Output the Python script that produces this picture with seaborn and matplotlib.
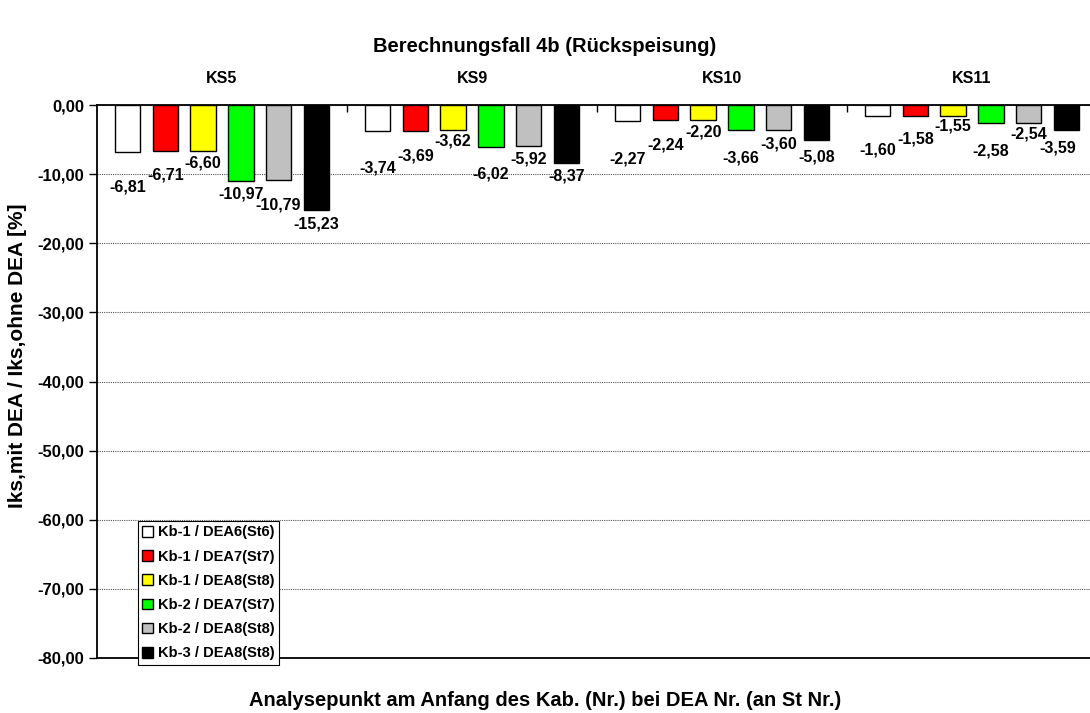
import pandas as pd
import matplotlib.pyplot as plt
import seaborn as sns

# data
categories = ["KS5", "KS9", "KS10", "KS11"]
series = [
    "Kb-1 / DEA6(St6)",
    "Kb-1 / DEA7(St7)",
    "Kb-1 / DEA8(St8)",
    "Kb-2 / DEA7(St7)",
    "Kb-2 / DEA8(St8)",
    "Kb-3 / DEA8(St8)",
]
kb1_dea6 = [-6.81, -3.74, -2.27, -1.60]
kb1_dea7 = [-6.71, -3.69, -2.24, -1.58]
kb1_dea8 = [-6.60, -3.62, -2.20, -1.55]
kb2_dea7 = [-10.97, -6.02, -3.66, -2.58]
kb2_dea8 = [-10.79, -5.92, -3.60, -2.54]
kb3_dea8 = [-15.23, -8.37, -5.08, -3.59]
y_ticks = [0, -10, -20, -30, -40, -50, -60, -70, -80]

colors = ["#FFFFFF", "#FF0000", "#FFFF00", "#00FF00", "#C0C0C0", "#000000"]

# label offsets below bar end (pixels), per category / series (Excel staggering)
label_dy = [
    [35, 24, 12, 13, 25, 14],
    [37, 25, 11, 27, 13, 13],
    [38, 25, 12, 28, 14, 17],
    [34, 23, 10, 28, 11, 18],
]

values = [kb1_dea6, kb1_dea7, kb1_dea8, kb2_dea7, kb2_dea8, kb3_dea8]
rows = []
for s, vals in zip(series, values):
    for c, v in zip(categories, vals):
        rows.append({"Fall": c, "Serie": s, "Wert": v})
df = pd.DataFrame(rows)

sns.set_style("white")
plt.rcParams["font.family"] = ["Liberation Sans", "DejaVu Sans"]
plt.rcParams["font.weight"] = "bold"
plt.rcParams["text.color"] = "black"
plt.rcParams["axes.labelcolor"] = "black"
plt.rcParams["xtick.color"] = "black"
plt.rcParams["ytick.color"] = "black"

fig = plt.figure(figsize=(10.9, 7.13), dpi=100)
W, H = 1090, 713
ax = fig.add_axes([97 / W, 1 - 658 / H, 1000 / W, 553 / H])

sns.barplot(
    data=df, x="Fall", y="Wert", hue="Serie",
    order=categories, hue_order=series,
    palette=colors, saturation=1, width=0.905, gap=0.325,
    edgecolor="black", linewidth=1.0,
    errorbar=None, legend=False, ax=ax,
)
ax.set_xlabel("")
ax.set_ylabel("")

ax.set_xlim(-0.5, 3.5)
ax.set_ylim(-80, 0)
ax.set_yticks(y_ticks)
ax.set_yticklabels([f"{t:.2f}".replace(".", ",") for t in y_ticks],
                   fontsize=12, fontweight="bold")
ax.yaxis.grid(True, linestyle=(0, (1, 1)), color="#555555", linewidth=0.8)
ax.set_axisbelow(True)
ax.tick_params(axis="y", direction="out", length=6, width=1, pad=3, left=True)

# category axis on top (crosses at 0)
ax.xaxis.set_ticks_position("top")
ax.set_xticks(range(len(categories)))
ax.set_xticklabels(categories, fontsize=11.5, fontweight="bold")
ax.set_xticks([0.5, 1.5, 2.5], minor=True)
ax.tick_params(axis="x", which="major", length=0, pad=14)
ax.tick_params(axis="x", which="minor", direction="in", length=5, width=1, top=True)

for side in ["left", "top", "bottom"]:
    ax.spines[side].set_visible(True)
    ax.spines[side].set_color("black")
    ax.spines[side].set_linewidth(1.3)
ax.spines["right"].set_visible(False)

fig.text(0.5, 1 - 700 / H, "Analysepunkt am Anfang des Kab. (Nr.) bei DEA Nr. (an St Nr.)",
         fontsize=14.5, fontweight="bold", ha="center", va="center")
fig.text(18 / W, 1 - 356 / H, "Iks,mit DEA / Iks,ohne DEA [%]", rotation=90,
         fontsize=15, fontweight="bold", ha="center", va="center")
fig.text(545 / W, 1 - 47 / H, "Berechnungsfall 4b (Rückspeisung)", fontsize=14.5,
         fontweight="bold", ha="center", va="center")

# data labels below each bar
for si, cont in enumerate(ax.containers):
    for ci, bar in enumerate(cont):
        v = bar.get_y() + bar.get_height()
        xc = bar.get_x() + bar.get_width() / 2
        dx = -9 if (ci == 3 and si == 5) else 0
        ax.annotate(f"{v:.2f}".replace(".", ","), xy=(xc, v),
                    xytext=(dx, -label_dy[ci][si]), textcoords="offset pixels",
                    ha="center", va="center", fontsize=11.5, fontweight="bold",
                    annotation_clip=False)

leg = ax.legend(
    [c.patches[0] for c in ax.containers], series,
    loc="upper left", bbox_to_anchor=(138 / W, 1 - 521 / H),
    bbox_transform=fig.transFigure, frameon=True, fancybox=False,
    edgecolor="black", framealpha=1, borderpad=0.3,
    handlelength=0.75, handleheight=0.75, handletextpad=0.3,
    labelspacing=0.7, borderaxespad=0,
    prop={"size": 10.5, "weight": "bold"},
)
leg.get_frame().set_linewidth(0.8)

fig.savefig("out.png", dpi=100)
